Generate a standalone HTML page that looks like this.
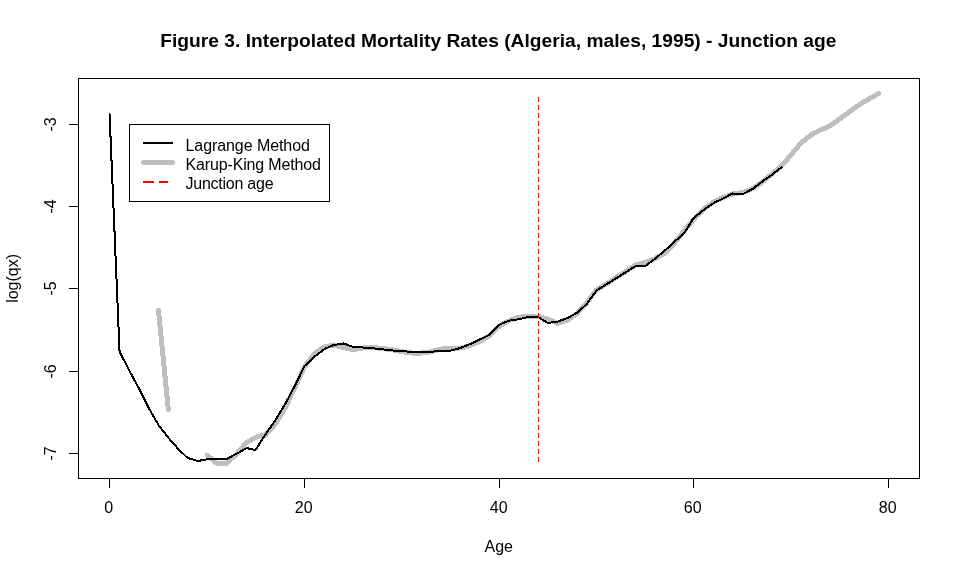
<!DOCTYPE html>
<html><head><meta charset="utf-8"><title>Figure 3</title>
<style>
html,body{margin:0;padding:0;background:#fff;}
body{width:960px;height:576px;overflow:hidden;}
svg{display:block;}
text{font-family:"Liberation Sans",sans-serif;fill:#000;}
</style></head><body>
<svg width="960" height="576" viewBox="0 0 960 576">
<rect x="0" y="0" width="960" height="576" fill="#ffffff"/>
<g shape-rendering="crispEdges" fill="none" stroke="#bebebe" stroke-width="5" stroke-linecap="round" stroke-linejoin="round">
<polyline points="158.5,310.5 168.3,409.5"/>
<polyline points="207.2,455.2 216.9,463.4 226.7,463.4 236.4,454.3 246.1,443.0 255.9,437.0 265.6,435.0 275.3,424.0 285.1,408.0 294.8,388.0 304.5,366.5 314.3,354.0 324.0,347.0 333.7,345.0 343.5,347.6 353.2,349.7 362.9,348.0 372.7,347.5 382.4,348.5 392.1,349.7 401.9,351.7 411.6,353.0 421.3,353.0 431.1,351.7 440.8,349.2 450.5,348.0 460.3,348.0 470.0,345.6 479.7,341.3 489.5,335.8 499.2,326.3 508.9,320.6 518.7,317.3 528.4,316.1 538.1,316.3 547.9,319.2 557.6,323.3 567.3,320.0 577.1,313.5 586.8,302.8 596.5,290.0 606.3,284.0 616.0,277.7 625.7,271.6 635.5,265.0 645.2,262.5 654.9,258.7 664.7,253.3 674.4,243.3 684.1,230.8 693.9,219.2 703.6,209.2 713.3,202.2 723.1,197.5 732.8,193.8 742.5,192.6 752.3,188.8 762.0,182.2 771.7,174.3 781.5,166.0 791.2,154.8 800.9,143.0 810.7,135.2 820.4,130.1 830.1,125.8 839.9,118.7 849.6,111.7 859.3,104.6 869.1,99.0 878.8,93.4"/>
</g>
<polyline shape-rendering="crispEdges" fill="none" stroke="#000" stroke-width="2" stroke-linecap="round" stroke-linejoin="round" points="109.55,113.8 119.55,351.5 129.55,371.1 139.55,389.6 148.55,407.8 158.55,425.0 168.55,438.0 178.55,449.3 187.55,457.9 197.55,461.0 207.55,459.3 216.55,459.0 226.55,459.0 236.55,453.8 246.55,448.1 255.55,450.0 265.55,434.3 275.55,420.0 285.55,403.4 294.55,386.4 304.55,366.0 314.55,356.6 324.55,349.0 333.55,345.0 343.55,343.5 353.55,347.0 362.55,347.5 372.55,348.3 382.55,349.3 392.55,350.5 401.55,351.2 411.55,351.8 421.55,352.0 431.55,351.7 440.55,351.0 450.55,350.7 460.55,347.9 470.55,344.0 479.55,339.6 489.55,334.8 499.55,324.7 508.55,320.8 518.55,319.2 528.55,317.0 538.55,317.2 547.55,322.9 557.55,321.6 567.55,318.0 577.55,312.5 586.55,304.2 596.55,290.4 606.55,284.3 616.55,278.0 625.55,272.3 635.55,266.1 645.55,265.9 654.55,259.2 664.55,250.8 674.55,241.7 684.55,232.8 693.55,218.0 703.55,210.0 713.55,203.0 723.55,198.2 732.55,193.5 742.55,194.2 752.55,189.0 762.55,181.3 771.55,175.0 781.55,167.3"/>
<line x1="538.5" y1="97" x2="538.5" y2="462" stroke="#ff0000" stroke-width="1" stroke-dasharray="5 3" shape-rendering="crispEdges"/>
<g fill="none" stroke="#000" stroke-width="1" shape-rendering="crispEdges">
<rect x="78.5" y="78.5" width="841" height="400"/>
<line x1="109.5" y1="478.5" x2="109.5" y2="488"/>
<line x1="304.5" y1="478.5" x2="304.5" y2="488"/>
<line x1="499.5" y1="478.5" x2="499.5" y2="488"/>
<line x1="693.5" y1="478.5" x2="693.5" y2="488"/>
<line x1="888.5" y1="478.5" x2="888.5" y2="488"/>
<line x1="69" y1="124.5" x2="78.5" y2="124.5"/>
<line x1="69" y1="206.5" x2="78.5" y2="206.5"/>
<line x1="69" y1="288.5" x2="78.5" y2="288.5"/>
<line x1="69" y1="371.5" x2="78.5" y2="371.5"/>
<line x1="69" y1="453.5" x2="78.5" y2="453.5"/>
</g>
<g font-size="16px" text-anchor="middle">
<text x="108.7" y="513">0</text>
<text x="303.7" y="513">20</text>
<text x="498.7" y="513">40</text>
<text x="692.7" y="513">60</text>
<text x="887.7" y="513">80</text>
<text transform="translate(56,124.5) rotate(-90)">-3</text>
<text transform="translate(56,206.5) rotate(-90)">-4</text>
<text transform="translate(56,288.5) rotate(-90)">-5</text>
<text transform="translate(56,371.5) rotate(-90)">-6</text>
<text transform="translate(56,453.5) rotate(-90)">-7</text>
<text x="498.7" y="551.7">Age</text>
<text transform="translate(17.8,278.4) rotate(-90)">log(qx)</text>
</g>
<text x="160.2" y="47" font-size="19.2px" font-weight="bold" textLength="676.2" lengthAdjust="spacing">Figure 3. Interpolated Mortality Rates (Algeria, males, 1995) - Junction age</text>
<rect x="129.5" y="124.5" width="200" height="77" fill="#fff" stroke="#000" stroke-width="1" shape-rendering="crispEdges"/>
<line x1="143" y1="143" x2="173" y2="143" stroke="#000" stroke-width="2" shape-rendering="crispEdges"/>
<line x1="143.5" y1="162.5" x2="172.5" y2="162.5" stroke="#bebebe" stroke-width="5" stroke-linecap="round"/>
<rect x="143" y="181" width="11" height="2" fill="#ff0000" shape-rendering="crispEdges"/><rect x="159" y="181" width="9" height="2" fill="#ff0000" shape-rendering="crispEdges"/>
<g font-size="16px">
<text x="185.5" y="150.6" textLength="124.4" lengthAdjust="spacing">Lagrange Method</text>
<text x="185.5" y="169.8" textLength="135.5" lengthAdjust="spacing">Karup-King Method</text>
<text x="185.5" y="189" textLength="88.1" lengthAdjust="spacing">Junction age</text>
</g>
</svg>
</body></html>
